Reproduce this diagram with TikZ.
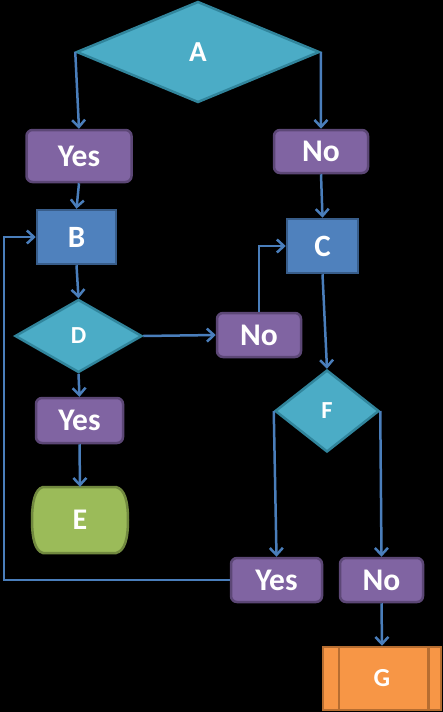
\documentclass[tikz,border=0pt]{standalone}
\usepackage{fontspec}
\setmainfont{Carlito}
\usetikzlibrary{shapes.geometric,arrows.meta}
\definecolor{dia}{HTML}{4BACC6}
\definecolor{diaB}{HTML}{31859C}
\definecolor{pur}{HTML}{8064A2}
\definecolor{purB}{HTML}{5C4776}
\definecolor{blu}{HTML}{4F81BD}
\definecolor{bluB}{HTML}{385D8A}
\definecolor{grn}{HTML}{9BBB59}
\definecolor{grnB}{HTML}{71893F}
\definecolor{org}{HTML}{F79646}
\definecolor{orgB}{HTML}{B66D31}
\definecolor{lnk}{HTML}{4A7EBB}
\tikzset{
  every node/.style={text=white, inner sep=0pt},
  decis/.style={diamond, fill=dia, draw=diaB, line width=2.5pt, font=\bfseries\fontsize{29}{29}\selectfont},
  smalldecis/.style={decis, font=\bfseries\fontsize{24.5}{24.5}\selectfont},
  answer/.style={rectangle, rounded corners=6pt, fill=pur, draw=purB, line width=2.5pt, font=\bfseries\fontsize{31.5}{31.5}\selectfont},
  procbox/.style={rectangle, fill=blu, draw=bluB, line width=2.5pt, font=\bfseries\fontsize{31}{31}\selectfont},
  termtext/.style={rectangle, font=\bfseries\fontsize{30}{30}\selectfont},
  termshape/.style={fill=grn, draw=grnB, line width=2.5pt},
  predbox/.style={rectangle, fill=org, draw=orgB, line width=2.5pt, font=\bfseries\fontsize{26}{26}\selectfont},
  arr/.style={draw=lnk, line width=2.5pt, -{Straight Barb[length=7pt,width=13pt]}}
}
\begin{document}
\begin{tikzpicture}[x=1pt,y=-1pt]
\fill[black] (0,0) rectangle (443,712);
\useasboundingbox (0,0) rectangle (443,712);

\node[decis, minimum width=243pt, minimum height=101pt] (A) at (198,52) {A};
\node[answer, minimum width=105pt, minimum height=52pt] (Y1) at (79,156) {Yes};
\node[answer, minimum width=94pt, minimum height=43pt] (N1) at (321,151.5) {No};
\node[procbox, minimum width=79pt, minimum height=54pt] (B) at (76.5,237) {B};
\node[procbox, minimum width=71pt, minimum height=54pt] (C) at (322.5,246) {C};
\node[smalldecis, minimum width=127pt, minimum height=73pt] (D) at (78.5,336) {D};
\node[answer, minimum width=84pt, minimum height=44pt] (N2) at (259,335) {No};
\node[smalldecis, minimum width=104pt, minimum height=82pt] (F) at (327,411) {F};
\node[answer, minimum width=87pt, minimum height=45pt] (Y2) at (79.5,420.5) {Yes};
% terminator E with bulging sides
\draw[termshape] (43,487) -- (116,487) .. controls (125,489) and (128,502) .. (128,520)
  .. controls (128,538) and (125,551) .. (116,553) -- (43,553)
  .. controls (35,551) and (32,538) .. (32,520) .. controls (32,502) and (35,489) .. (43,487) -- cycle;
\node[termtext, minimum width=96pt, minimum height=66pt] (E) at (80,520) {E};
\node[answer, minimum width=91pt, minimum height=44pt] (Y3) at (276.5,580) {Yes};
\node[answer, minimum width=83pt, minimum height=44pt] (N3) at (381.5,580) {No};
\node[predbox, minimum width=118pt, minimum height=63pt] (G) at (382,678.5) {G};
\draw[orgB, line width=2.5pt] ([xshift=17pt]G.north west) -- ([xshift=17pt]G.south west);
\draw[orgB, line width=2.5pt] ([xshift=-14pt]G.north east) -- ([xshift=-14pt]G.south east);

\coordinate (loop) at (4,580);

\draw[arr] (A.west) -- (Y1.north);
\draw[arr] (A.east) -- (N1.north);
\draw[arr] (Y1.south) -- (B.north);
\draw[arr] (N1.south) -- (C.north);
\draw[arr] (B.south) -- (D.north);
\draw[arr] (D.east) -- (N2.west);
\draw[arr] (N2.north) |- (C.west);
\draw[arr] (C.south) -- (F.north);
\draw[arr] (D.south) -- (Y2.north);
\draw[arr] (Y2.south) -- (E.north);
\draw[arr] (F.west) -- (Y3.north);
\draw[arr] (F.east) -- (N3.north);
\draw[arr] (N3.south) -- (G.north);
\draw[arr] (Y3.west) -- (loop) |- (B.west);
\end{tikzpicture}
\end{document}
